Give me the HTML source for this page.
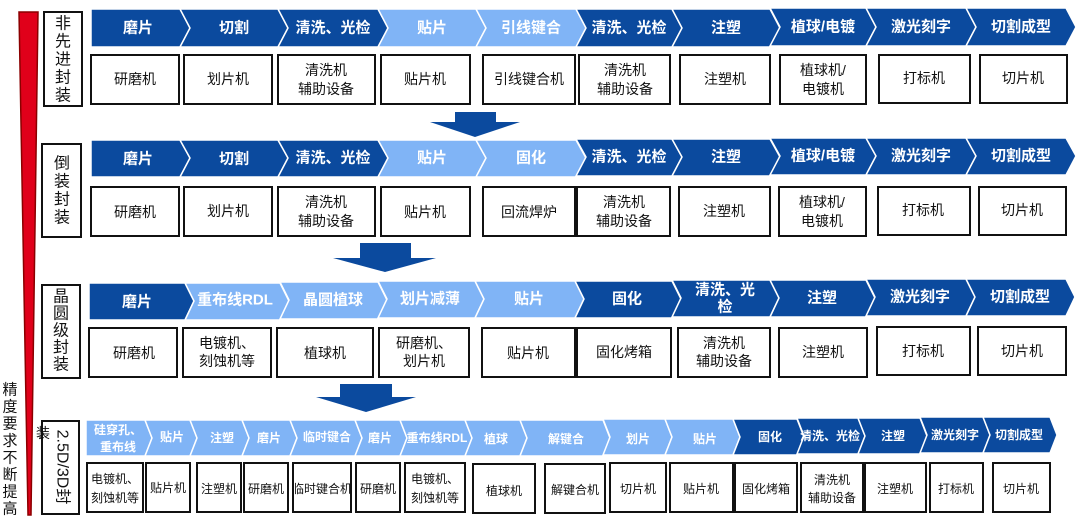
<!DOCTYPE html>
<html><head><meta charset="utf-8"><style>
html,body{margin:0;padding:0;background:#fff;}
svg{display:block;font-family:"Liberation Sans","Noto Sans CJK SC",sans-serif;}
.cd{fill:#0B4A9E;stroke:#fff;stroke-width:1.5}
.cl{fill:#80B4F6;stroke:#fff;stroke-width:1.5}
.ct{fill:#fff;font-size:15px;font-weight:bold;text-anchor:middle;dominant-baseline:central}
.ct4{fill:#fff;font-size:12px;font-weight:bold;text-anchor:middle;dominant-baseline:central}
.bx{fill:#fff;stroke:#111;stroke-width:2}
.bt{fill:#111;font-size:14px;text-anchor:middle;dominant-baseline:central}
.bt4{fill:#111;font-size:12px;text-anchor:middle;dominant-baseline:central}
.lt{fill:#111;font-size:16px;text-anchor:middle;dominant-baseline:central}
.ar{fill:#0B4A9E}
</style></head><body>
<svg width="1080" height="519" viewBox="0 0 1080 519">
<!-- red wedge -->
<polygon points="19,12 38,12 31,515 28,515" fill="#E0001A" stroke="#8B0000" stroke-width="1.5"/>
<g class="lt" style="font-size:15px">
<text x="10" y="390">精</text><text x="10" y="407">度</text><text x="10" y="424">要</text><text x="10" y="441">求</text><text x="10" y="458">不</text><text x="10" y="475">断</text><text x="10" y="492">提</text><text x="10" y="509">高</text>
</g>

<!-- label boxes -->
<rect class="bx" x="44" y="12" width="38" height="94"/>
<g class="lt"><text x="63" y="24">非</text><text x="63" y="42">先</text><text x="63" y="60">进</text><text x="63" y="78">封</text><text x="63" y="96">装</text></g>
<rect class="bx" x="42" y="144" width="39" height="93"/>
<g class="lt"><text x="62" y="164">倒</text><text x="62" y="182">装</text><text x="62" y="200">封</text><text x="62" y="218">装</text></g>
<rect class="bx" x="42" y="285" width="38" height="93"/>
<g class="lt"><text x="61" y="297">晶</text><text x="61" y="314">圆</text><text x="61" y="331">级</text><text x="61" y="348">封</text><text x="61" y="365">装</text></g>
<rect class="bx" x="42" y="421" width="37" height="93"/>
<text class="lt" transform="translate(62,467) rotate(90)" style="font-size:16px">2.5D/3D封</text>
<text class="lt" x="43" y="433" style="font-size:14px">装</text>

<!-- Row 1 chevrons -->
<polygon class="cd" points="91,9 180,9 190,28 180,47 91,47"/>
<polygon class="cd" points="180,9 278,9 288,28 278,47 180,47 190,28"/>
<polygon class="cd" points="278,9 378,9 388,28 378,47 278,47 288,28"/>
<polygon class="cl" points="378,9 476,9 486,28 476,47 378,47 388,28"/>
<polygon class="cl" points="476,9 576,9 586,28 576,47 476,47 486,28"/>
<polygon class="cd" points="576,9 672,9 682,28 672,47 576,47 586,28"/>
<polygon class="cd" points="672,9 770,9 780,28 770,47 672,47 682,28"/>
<polygon class="cd" points="770,8 866,8 876,27 866,46 770,46 780,27"/>
<polygon class="cd" points="866,8 966,8 976,27 966,46 866,46 876,27"/>
<polygon class="cd" points="966,8 1066,8 1076,27 1066,46 966,46 976,27"/>
<g class="ct">
<text x="138" y="28">磨片</text><text x="234" y="28">切割</text><text x="333" y="28">清洗、光检</text><text x="432" y="28">贴片</text><text x="531" y="28">引线键合</text><text x="629" y="28">清洗、光检</text><text x="726" y="28">注塑</text><text x="823" y="27">植球/电镀</text><text x="921" y="27">激光刻字</text><text x="1021" y="27">切割成型</text>
</g>
<!-- Row 1 boxes -->
<g>
<rect class="bx" x="91" y="55" width="88" height="49"/><rect class="bx" x="184" y="55" width="88" height="49"/><rect class="bx" x="278" y="55" width="97" height="49"/><rect class="bx" x="381" y="55" width="89" height="49"/><rect class="bx" x="483" y="55" width="92" height="49"/><rect class="bx" x="579" y="55" width="91" height="49"/><rect class="bx" x="680" y="55" width="90" height="49"/><rect class="bx" x="780" y="55" width="86" height="49"/><rect class="bx" x="879" y="55" width="91" height="48"/><rect class="bx" x="980" y="55" width="87" height="48"/>
</g>
<g class="bt">
<text x="135" y="79">研磨机</text><text x="228" y="79">划片机</text><text x="326" y="70">清洗机</text><text x="326" y="89">辅助设备</text><text x="425" y="79">贴片机</text><text x="529" y="79">引线键合机</text><text x="625" y="70">清洗机</text><text x="625" y="89">辅助设备</text><text x="725" y="79">注塑机</text><text x="823" y="70">植球机/</text><text x="823" y="89">电镀机</text><text x="924" y="78">打标机</text><text x="1023" y="78">切片机</text>
</g>

<!-- arrow 1 -->
<polygon class="ar" points="455,112 496,112 496,122 520,122 475,137 430,122 455,122"/>

<!-- Row 2 chevrons -->
<polygon class="cd" points="91,140 180,140 190,158 180,177 91,177"/>
<polygon class="cd" points="180,140 278,140 288,158 278,177 180,177 190,158"/>
<polygon class="cd" points="278,140 378,140 388,158 378,177 278,177 288,158"/>
<polygon class="cl" points="378,140 476,140 486,158 476,177 378,177 388,158"/>
<polygon class="cl" points="476,140 576,140 586,158 576,177 476,177 486,158"/>
<polygon class="cd" points="576,139 672,139 682,157 672,176 576,176 586,157"/>
<polygon class="cd" points="672,139 770,139 780,157 770,176 672,176 682,157"/>
<polygon class="cd" points="770,138 866,138 876,156 866,175 770,175 780,156"/>
<polygon class="cd" points="866,138 966,138 976,156 966,175 866,175 876,156"/>
<polygon class="cd" points="966,138 1066,138 1076,156 1066,175 966,175 976,156"/>
<g class="ct">
<text x="138" y="159">磨片</text><text x="234" y="159">切割</text><text x="333" y="158">清洗、光检</text><text x="432" y="158">贴片</text><text x="531" y="158">固化</text><text x="629" y="157">清洗、光检</text><text x="726" y="157">注塑</text><text x="823" y="156">植球/电镀</text><text x="921" y="156">激光刻字</text><text x="1021" y="156">切割成型</text>
</g>
<g>
<rect class="bx" x="91" y="187" width="88" height="49"/><rect class="bx" x="184" y="187" width="88" height="49"/><rect class="bx" x="278" y="187" width="97" height="49"/><rect class="bx" x="381" y="187" width="89" height="49"/><rect class="bx" x="483" y="187" width="92" height="49"/><rect class="bx" x="577" y="187" width="93" height="49"/><rect class="bx" x="679" y="187" width="91" height="49"/><rect class="bx" x="779" y="187" width="87" height="49"/><rect class="bx" x="878" y="187" width="92" height="48"/><rect class="bx" x="979" y="187" width="87" height="48"/>
</g>
<g class="bt">
<text x="135" y="212">研磨机</text><text x="228" y="211">划片机</text><text x="326" y="202">清洗机</text><text x="326" y="221">辅助设备</text><text x="425" y="212">贴片机</text><text x="529" y="212">回流焊炉</text><text x="624" y="202">清洗机</text><text x="624" y="221">辅助设备</text><text x="724" y="211">注塑机</text><text x="822" y="202">植球机/</text><text x="822" y="221">电镀机</text><text x="923" y="210">打标机</text><text x="1022" y="210">切片机</text>
</g>

<!-- arrow 2 -->
<polygon class="ar" points="360,243 411,243 411,258 436,258 385,272 333,258 360,258"/>

<!-- Row 3 chevrons -->
<polygon class="cd" points="89,283 185,283 194,301 185,320 89,320"/>
<polygon class="cl" points="185,283 280,283 289,301 280,320 185,320 194,301"/>
<polygon class="cl" points="280,282 378,282 387,300 378,319 280,319 289,300"/>
<polygon class="cl" points="378,281 475,281 484,299 475,318 378,318 387,299"/>
<polygon class="cl" points="475,281 575,281 584,299 575,318 475,318 484,299"/>
<polygon class="cd" points="575,281 672,281 681,299 672,318 575,318 584,299"/>
<polygon class="cd" points="672,280 770,280 779,298 770,317 672,317 681,298"/>
<polygon class="cd" points="770,280 866,280 875,298 866,317 770,317 779,298"/>
<polygon class="cd" points="866,279 966,279 975,297 966,316 866,316 875,297"/>
<polygon class="cd" points="966,279 1066,279 1075,297 1066,316 966,316 975,297"/>
<g class="ct">
<text x="137" y="302">磨片</text><text x="235" y="300">重布线RDL</text><text x="333" y="300">晶圆植球</text><text x="430" y="299">划片减薄</text><text x="529" y="299">贴片</text><text x="627" y="299">固化</text><text x="725" y="290">清洗、光</text><text x="725" y="307">检</text><text x="822" y="298">注塑</text><text x="920" y="297">激光刻字</text><text x="1020" y="297">切割成型</text>
</g>
<g>
<rect class="bx" x="89" y="328" width="88" height="49"/><rect class="bx" x="183" y="328" width="88" height="49"/><rect class="bx" x="277" y="328" width="96" height="49"/><rect class="bx" x="379" y="328" width="90" height="49"/><rect class="bx" x="482" y="328" width="93" height="49"/><rect class="bx" x="577" y="328" width="94" height="49"/><rect class="bx" x="678" y="328" width="92" height="49"/><rect class="bx" x="779" y="328" width="88" height="49"/><rect class="bx" x="877" y="327" width="93" height="48"/><rect class="bx" x="978" y="327" width="88" height="48"/>
</g>
<g class="bt">
<text x="134" y="353">研磨机</text><text x="227" y="343">电镀机、</text><text x="227" y="361">刻蚀机等</text><text x="325" y="353">植球机</text><text x="424" y="343">研磨机、</text><text x="424" y="361">划片机</text><text x="528" y="353">贴片机</text><text x="624" y="352">固化烤箱</text><text x="724" y="343">清洗机</text><text x="724" y="361">辅助设备</text><text x="823" y="352">注塑机</text><text x="923" y="351">打标机</text><text x="1022" y="351">切片机</text>
</g>

<!-- arrow 3 -->
<polygon class="ar" points="340,384 392,384 392,397 416,397 366,412 316,397 340,397"/>

<!-- Row 4 chevrons -->
<polygon class="cl" points="86,420 145,420 152,438 145,456 86,456"/>
<polygon class="cl" points="145,420 190,420 197,438 190,456 145,456 152,438"/>
<polygon class="cl" points="190,420 242,420 249,438 242,456 190,456 197,438"/>
<polygon class="cl" points="242,420 290,420 297,438 290,456 242,456 249,438"/>
<polygon class="cl" points="290,420 355,420 362,438 355,456 290,456 297,438"/>
<polygon class="cl" points="355,420 400,420 407,438 400,456 355,456 362,438"/>
<polygon class="cl" points="400,420 465,420 472,438 465,456 400,456 407,438"/>
<polygon class="cl" points="465,420 520,420 527,438 520,456 465,456 472,438"/>
<polygon class="cl" points="520,420 603,420 610,438 603,456 520,456 527,438"/>
<polygon class="cl" points="603,419 665,419 672,437 665,455 603,455 610,437"/>
<polygon class="cl" points="665,419 733,419 740,437 733,455 665,455 672,437"/>
<polygon class="cd" points="733,419 797,419 804,437 797,455 733,455 740,437"/>
<polygon class="cd" points="797,418 858,418 865,436 858,454 797,454 804,436"/>
<polygon class="cd" points="858,418 920,418 927,436 920,454 858,454 865,436"/>
<polygon class="cd" points="920,417 983,417 990,435 983,453 920,453 927,435"/>
<polygon class="cd" points="983,417 1050,417 1057,435 1050,453 983,453 990,435"/>
<g class="ct4">
<text x="118" y="430">硅穿孔、</text><text x="118" y="447">重布线</text><text x="172" y="437">贴片</text><text x="222" y="438">注塑</text><text x="269" y="438">磨片</text><text x="327" y="437">临时键合</text><text x="380" y="438">磨片</text><text x="437" y="438">重布线RDL</text><text x="496" y="439">植球</text><text x="566" y="439">解键合</text><text x="638" y="439">划片</text><text x="705" y="439">贴片</text><text x="770" y="437">固化</text><text x="830" y="436">清洗、光检</text><text x="893" y="436">注塑</text><text x="955" y="435">激光刻字</text><text x="1019" y="435">切割成型</text>
</g>
<g>
<rect class="bx" x="87" y="463" width="56" height="49"/><rect class="bx" x="146" y="463" width="44" height="49"/><rect class="bx" x="197" y="463" width="44" height="49"/><rect class="bx" x="244" y="463" width="44" height="49"/><rect class="bx" x="293" y="463" width="58" height="49"/><rect class="bx" x="356" y="463" width="44" height="49"/><rect class="bx" x="405" y="463" width="60" height="49"/><rect class="bx" x="473" y="464" width="62" height="49"/><rect class="bx" x="545" y="464" width="60" height="49"/><rect class="bx" x="610" y="463" width="56" height="49"/><rect class="bx" x="670" y="463" width="63" height="49"/><rect class="bx" x="735" y="463" width="62" height="49"/><rect class="bx" x="801" y="463" width="62" height="49"/><rect class="bx" x="865" y="463" width="61" height="49"/><rect class="bx" x="930" y="463" width="53" height="49"/><rect class="bx" x="993" y="463" width="57" height="49"/>
</g>
<g class="bt4">
<text x="115" y="479">电镀机、</text><text x="115" y="498">刻蚀机等</text><text x="168" y="488">贴片机</text><text x="219" y="489">注塑机</text><text x="266" y="489">研磨机</text><text x="322" y="489">临时键合机</text><text x="378" y="489">研磨机</text><text x="435" y="479">电镀机、</text><text x="435" y="498">刻蚀机等</text><text x="504" y="491">植球机</text><text x="575" y="490">解键合机</text><text x="638" y="489">切片机</text><text x="701" y="489">贴片机</text><text x="766" y="489">固化烤箱</text><text x="832" y="480">清洗机</text><text x="832" y="498">辅助设备</text><text x="895" y="489">注塑机</text><text x="956" y="489">打标机</text><text x="1021" y="489">切片机</text>
</g>
</svg>
</body></html>
